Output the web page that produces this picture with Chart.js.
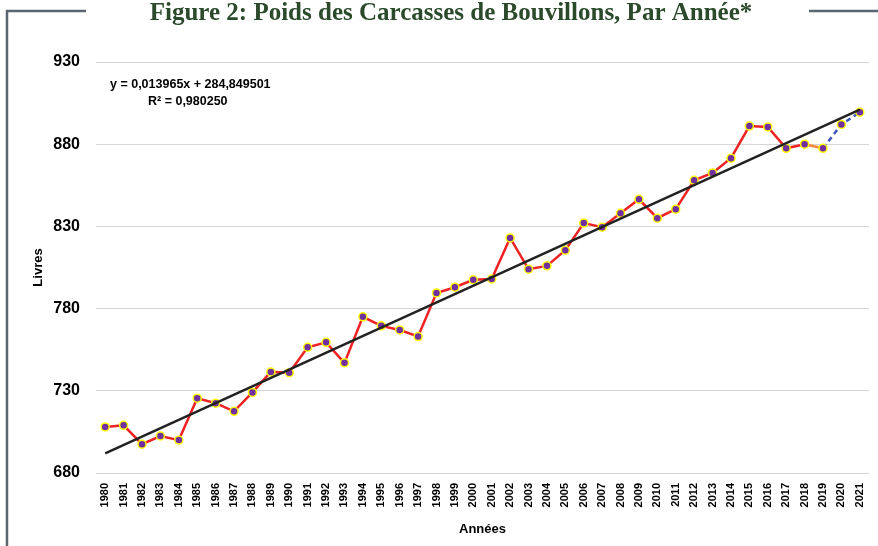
<!DOCTYPE html>
<html>
<head>
<meta charset="utf-8">
<script src="https://cdn.jsdelivr.net/npm/chart.js@4.4.0/dist/chart.umd.min.js"></script>
<style>
  html, body { margin: 0; padding: 0; background: #ffffff; }
  #wrap { width: 878px; height: 546px; position: relative; }
</style>
</head>
<body>
<div id="wrap"><canvas id="weightChart"></canvas></div>
<script>
// Years on the category axis
const years = [
  '1980', '1981', '1982', '1983', '1984', '1985', '1986', '1987', '1988', '1989',
  '1990', '1991', '1992', '1993', '1994', '1995', '1996', '1997', '1998', '1999',
  '2000', '2001', '2002', '2003', '2004', '2005', '2006', '2007', '2008', '2009',
  '2010', '2011', '2012', '2013', '2014', '2015', '2016', '2017', '2018', '2019',
  '2020', '2021',
];

// Steer carcass weight (livres)
const weights = [
  708, 709, 697.5, 702.5, 700, 725.5, 722.5, 717.5, 729, 741.5,
  741, 756.5, 759.5, 747, 775, 769.5, 767, 763, 789.5, 793,
  797.5, 798, 823, 804, 806, 815.5, 832, 829.5, 838, 846.5,
  835, 840.5, 858, 862.5, 871.5, 891, 890.5, 877.5, 880, 877.5,
  892, 899.5,
];

// Linear trend line endpoints (first and last year)
const trendStart = 692;
const trendEnd = 901;

const yTicks = [680, 730, 780, 830, 880, 930];

const equationLines = ['y = 0,013965x + 284,849501', 'R² = 0,980250'];
const chartTitle = 'Figure 2: Poids des Carcasses de Bouvillons, Par Année*';

const trendValues = years.map(function (y, i) {
  if (i === 0) return trendStart;
  if (i === years.length - 1) return trendEnd;
  return null;
});

// frame, title and equation text
const decorPlugin = {
  id: 'decor',
  beforeDraw: function (chart) {
    const ctx = chart.ctx;
    ctx.save();
    ctx.fillStyle = '#ffffff';
    ctx.fillRect(0, 0, chart.width, chart.height);
    ctx.strokeStyle = '#5b6670';
    ctx.lineWidth = 2.5;
    ctx.beginPath();
    ctx.moveTo(7, 546);
    ctx.lineTo(7, 11);
    ctx.lineTo(86, 11);
    ctx.moveTo(809, 11);
    ctx.lineTo(878, 11);
    ctx.stroke();
    ctx.restore();
  },
  afterDraw: function (chart) {
    const ctx = chart.ctx;
    ctx.save();
    ctx.fillStyle = '#2b4a2b';
    ctx.font = 'bold 25px "Liberation Serif", serif';
    ctx.textAlign = 'center';
    ctx.textBaseline = 'alphabetic';
    ctx.fillText(chartTitle, 451, 20);

    ctx.fillStyle = '#000000';
    ctx.font = 'bold 12.5px "Liberation Sans", sans-serif';
    ctx.textAlign = 'left';
    ctx.fillText(equationLines[0], 110, 88);
    ctx.fillText(equationLines[1], 148, 105);
    ctx.restore();
  },
};

const config = {
  type: 'line',
  data: {
    labels: years,
    datasets: [
      {
        label: 'Poids',
        data: weights,
        borderColor: '#ee2222',
        borderWidth: 2.5,
        pointBackgroundColor: '#7030a0',
        pointBorderColor: '#ffff00',
        pointBorderWidth: 1.5,
        pointRadius: 4,
        tension: 0,
        order: 1,
        segment: {
          borderColor: function (c) {
            if (c.p0DataIndex >= 39) return '#3b55b8';
            if (c.p0DataIndex === 38) return '#f08838';
            return '#ee2222';
          },
          borderDash: function (c) {
            return c.p0DataIndex >= 39 ? [5, 4] : undefined;
          },
        },
      },
      {
        label: 'Tendance',
        data: trendValues,
        spanGaps: true,
        borderColor: '#222222',
        borderWidth: 2.5,
        pointRadius: 0,
        tension: 0,
        order: 0,
      },
    ],
  },
  options: {
    responsive: false,
    animation: false,
    layout: { padding: { top: 62, right: 9, bottom: 0, left: 0 } },
    plugins: {
      legend: { display: false },
      tooltip: { enabled: false },
    },
    scales: {
      x: {
        offset: true,
        grid: { display: false, drawTicks: false },
        border: { display: false },
        ticks: {
          autoSkip: false,
          minRotation: 90,
          maxRotation: 90,
          padding: 10,
          color: '#000000',
          font: { family: '"Liberation Sans", sans-serif', size: 11, weight: 'bold' },
        },
        title: {
          display: true,
          text: 'Années',
          color: '#000000',
          padding: { top: 0, bottom: 9 },
          font: { family: '"Liberation Sans", sans-serif', size: 13, weight: 'bold' },
        },
        afterFit: function (axis) {
          axis.height = 73;
          axis.paddingLeft = 0;
          axis.paddingRight = 0;
        },
      },
      y: {
        min: 680,
        max: 930,
        afterBuildTicks: function (axis) {
          axis.ticks = yTicks.map(function (v) { return { value: v }; });
        },
        grid: { color: '#d4d4d4', lineWidth: 1, drawTicks: false },
        border: { display: false },
        ticks: {
          padding: 16,
          color: '#000000',
          font: { family: '"Liberation Sans", sans-serif', size: 16, weight: 'bold' },
        },
        title: {
          display: true,
          text: 'Livres',
          color: '#000000',
          padding: { top: 31, bottom: 0 },
          font: { family: '"Liberation Sans", sans-serif', size: 13, weight: 'bold' },
        },
        afterFit: function (axis) { axis.width = 96; },
      },
    },
  },
  plugins: [decorPlugin],
};

const canvas = document.getElementById('weightChart');
canvas.width = 878;
canvas.height = 546;
new Chart(canvas.getContext('2d'), config);
</script>
</body>
</html>
